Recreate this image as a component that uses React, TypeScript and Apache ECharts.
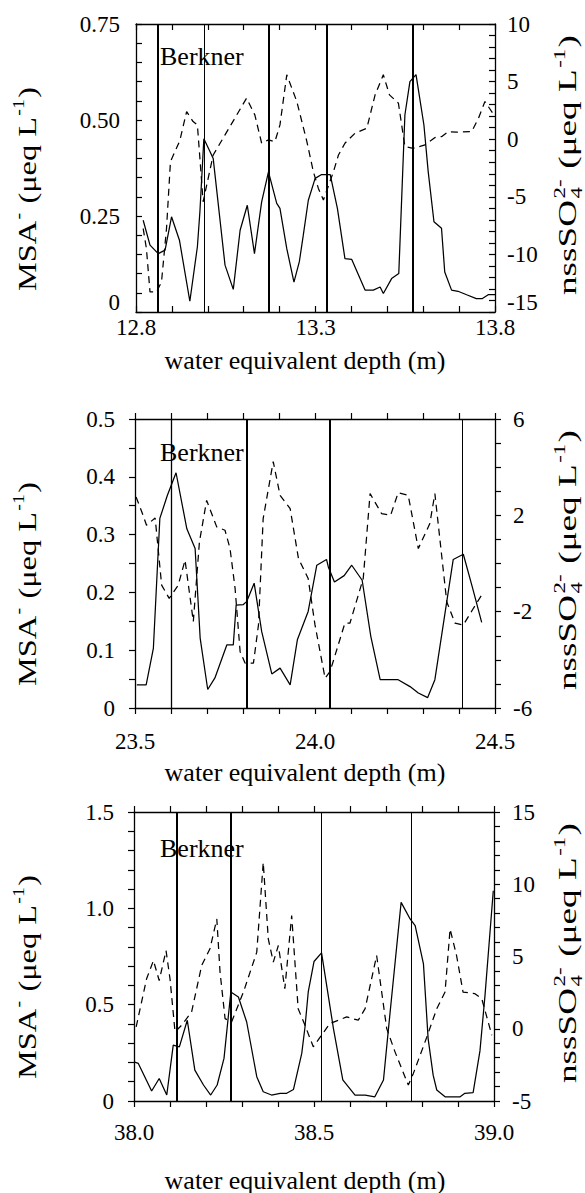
import React, { useEffect, useRef } from 'react';
import * as echarts from 'echarts';

// ---------- Panel 1 (12.8 - 13.8 m) ----------
const p1MsaDepth = [12.820, 12.839, 12.862, 12.881, 12.899, 12.921, 12.950, 12.971, 12.978, 12.989, 13.006, 13.015, 13.048, 13.071, 13.090, 13.110, 13.130, 13.150, 13.169, 13.192, 13.201, 13.220, 13.240, 13.255, 13.266, 13.280, 13.299, 13.317, 13.341, 13.361, 13.382, 13.401, 13.438, 13.461, 13.480, 13.489, 13.512, 13.532, 13.549, 13.563, 13.580, 13.602, 13.614, 13.630, 13.651, 13.660, 13.679, 13.697, 13.721, 13.748, 13.765, 13.781, 13.800];
const p1Msa = [0.239, 0.174, 0.152, 0.161, 0.248, 0.187, 0.028, 0.170, 0.261, 0.451, 0.418, 0.400, 0.122, 0.059, 0.213, 0.278, 0.152, 0.287, 0.365, 0.283, 0.270, 0.165, 0.078, 0.131, 0.200, 0.291, 0.348, 0.358, 0.358, 0.270, 0.139, 0.137, 0.057, 0.057, 0.065, 0.048, 0.087, 0.100, 0.513, 0.600, 0.618, 0.487, 0.365, 0.235, 0.218, 0.104, 0.057, 0.054, 0.045, 0.035, 0.035, 0.045, 0.045];
const p1So4Depth = [12.820, 12.829, 12.839, 12.857, 12.871, 12.885, 12.896, 12.922, 12.941, 12.959, 12.971, 12.978, 12.987, 13.015, 13.048, 13.108, 13.131, 13.150, 13.169, 13.187, 13.201, 13.220, 13.248, 13.276, 13.294, 13.308, 13.322, 13.350, 13.364, 13.382, 13.410, 13.443, 13.466, 13.489, 13.506, 13.531, 13.549, 13.572, 13.605, 13.633, 13.652, 13.670, 13.693, 13.735, 13.754, 13.772, 13.800];
const p1So4 = [-7.75, -9.49, -13.26, -13.26, -12.4, -7.75, -1.95, -0.13, 2.40, 1.53, 1.24, -1.66, -5.43, -1.37, 0.37, 3.56, 2.11, -0.35, -0.06, -0.21, 1.24, 5.59, 3.27, -0.21, -2.82, -4.27, -5.28, -2.82, -1.37, -0.35, 0.52, 0.95, 3.85, 5.59, 3.85, 3.12, -0.64, -0.79, -0.50, 0.14, 0.23, 0.66, 0.61, 0.66, 1.82, 3.27, 1.97];
const p1Events = [12.861, 12.995, 13.168, 13.329, 13.566];

// ---------- Panel 2 (23.5 - 24.5 m) ----------
const p2MsaDepth = [23.505, 23.531, 23.551, 23.569, 23.590, 23.614, 23.644, 23.667, 23.681, 23.702, 23.722, 23.755, 23.773, 23.781, 23.801, 23.810, 23.831, 23.852, 23.880, 23.903, 23.931, 23.951, 23.981, 24.005, 24.032, 24.037, 24.054, 24.081, 24.102, 24.131, 24.155, 24.181, 24.231, 24.264, 24.287, 24.313, 24.333, 24.366, 24.384, 24.412, 24.438, 24.463];
const p2Msa = [0.040, 0.040, 0.103, 0.328, 0.368, 0.407, 0.310, 0.276, 0.121, 0.032, 0.052, 0.109, 0.109, 0.178, 0.179, 0.184, 0.216, 0.132, 0.059, 0.069, 0.040, 0.118, 0.167, 0.247, 0.257, 0.244, 0.218, 0.229, 0.247, 0.221, 0.124, 0.049, 0.049, 0.037, 0.026, 0.018, 0.049, 0.184, 0.257, 0.266, 0.207, 0.148];
const p2So4Depth = [23.503, 23.519, 23.532, 23.556, 23.574, 23.595, 23.620, 23.639, 23.662, 23.679, 23.699, 23.727, 23.750, 23.764, 23.778, 23.792, 23.806, 23.829, 23.843, 23.856, 23.873, 23.884, 23.903, 23.931, 23.954, 23.981, 24.000, 24.028, 24.042, 24.083, 24.097, 24.134, 24.153, 24.185, 24.210, 24.231, 24.259, 24.287, 24.319, 24.333, 24.366, 24.389, 24.412, 24.440, 24.463];
const p2So4 = [2.76, 2.14, 1.59, 1.89, -0.90, -1.45, -0.90, 0.14, -2.41, 0.90, 2.62, 1.52, 1.38, 0.62, -1.03, -3.66, -4.14, -4.14, -2.55, 1.86, 3.31, 4.23, 2.83, 2.28, 0.21, -0.62, -2.55, -4.76, -4.48, -2.48, -2.48, -0.62, 2.90, 2.07, 2.00, 2.94, 2.83, 0.62, 1.66, 2.90, -1.59, -2.48, -2.55, -1.86, -1.31];
const p2Events = [23.597, 23.810, 24.035, 24.412];

// ---------- Panel 3 (38.0 - 39.0 m) ----------
const p3MsaDepth = [38.000, 38.012, 38.049, 38.070, 38.091, 38.109, 38.126, 38.148, 38.169, 38.193, 38.213, 38.231, 38.250, 38.269, 38.290, 38.313, 38.341, 38.359, 38.382, 38.406, 38.424, 38.443, 38.466, 38.475, 38.484, 38.500, 38.521, 38.554, 38.580, 38.614, 38.642, 38.669, 38.693, 38.706, 38.742, 38.767, 38.781, 38.804, 38.817, 38.831, 38.841, 38.864, 38.906, 38.919, 38.942, 38.961, 38.975, 38.998];
const p3Msa = [0.203, 0.195, 0.052, 0.117, 0.031, 0.290, 0.281, 0.419, 0.160, 0.083, 0.031, 0.083, 0.221, 0.566, 0.540, 0.410, 0.126, 0.048, 0.031, 0.040, 0.040, 0.060, 0.247, 0.384, 0.566, 0.724, 0.769, 0.376, 0.110, 0.031, 0.031, 0.022, 0.109, 0.359, 1.031, 0.945, 0.910, 0.712, 0.324, 0.134, 0.057, 0.022, 0.022, 0.040, 0.043, 0.260, 0.548, 1.091];
const p3So4Depth = [38.006, 38.021, 38.035, 38.054, 38.070, 38.089, 38.100, 38.114, 38.132, 38.160, 38.188, 38.211, 38.230, 38.239, 38.253, 38.271, 38.304, 38.341, 38.359, 38.373, 38.387, 38.401, 38.419, 38.438, 38.456, 38.475, 38.498, 38.544, 38.591, 38.623, 38.642, 38.674, 38.702, 38.725, 38.762, 38.776, 38.813, 38.841, 38.864, 38.878, 38.896, 38.914, 38.947, 38.966, 38.994];
const p3So4 = [0.13, 1.85, 3.46, 4.72, 3.34, 5.41, 3.46, -0.22, 0.24, 1.16, 4.38, 5.53, 7.60, 3.92, 0.70, 0.47, 2.54, 5.30, 11.51, 6.22, 4.61, 5.76, 2.77, 7.83, 1.39, 0.24, -1.25, 0.36, 0.82, 0.59, 1.39, 5.07, 0.01, -1.6, -3.90, -3.09, -0.60, 1.39, 2.54, 6.90, 5.07, 2.54, 2.43, 2.08, -0.45];
const p3Events = [38.117, 38.269, 38.524, 38.769];

const siteLabel = 'Berkner';
const xTitle = 'water equivalent depth (m)';

const FONT = 'Liberation Serif';
const BLACK = '#000';
const MAIN_SIZE = 26;
const SMALL_SIZE = 16;

const panels = [
  {
    msaDepth: p1MsaDepth, msa: p1Msa, so4Depth: p1So4Depth, so4: p1So4, events: p1Events,
    eventWidths: [2, 1, 2, 2, 2],
    xOff: 12.8, xMin: 0, xMax: 1, xInt: 0.5, xMinor: 5,
    lMin: 0, lMax: 0.75, lInt: 0.25, lMinor: 5, lFmt: (v: number) => (v === 0 ? '{lift|0}' : v.toFixed(2)),
    rOff: 0, rMin: -15, rMax: 10, rInt: 5, rMinor: 5, liftMin: true,
    grid: { left: 136, width: 359, top: 24, height: 288 },
    inside: true, lMargin: 16, rMargin: 12, xMargin: 4,
    berknerY: 56, titleY: 360,
  },
  {
    msaDepth: p2MsaDepth, msa: p2Msa, so4Depth: p2So4Depth, so4: p2So4, events: p2Events,
    eventWidths: [1.3, 2, 2, 1],
    xOff: 0, xMin: 23.5, xMax: 24.5, xInt: 0.5, xMinor: 5,
    lMin: 0, lMax: 0.5, lInt: 0.1, lMinor: 2, lFmt: (v: number) => (v === 0 ? '0' : v.toFixed(1)),
    rOff: 6, rMin: 0, rMax: 12, rInt: 4, rMinor: 4, liftMin: false,
    grid: { left: 135, width: 360, top: 419, height: 289 },
    inside: false, lMargin: 20, rMargin: 18, xMargin: 22,
    berknerY: 452, titleY: 772,
  },
  {
    msaDepth: p3MsaDepth, msa: p3Msa, so4Depth: p3So4Depth, so4: p3So4, events: p3Events,
    eventWidths: [2, 2, 1, 1],
    xOff: 0, xMin: 38, xMax: 39, xInt: 0.5, xMinor: 5,
    lMin: 0, lMax: 1.5, lInt: 0.5, lMinor: 5, lFmt: (v: number) => (v === 0 ? '0' : v.toFixed(1)),
    rOff: 0, rMin: -5, rMax: 15, rInt: 5, rMinor: 5, liftMin: false,
    grid: { left: 134, width: 360, top: 812, height: 289 },
    inside: false, lMargin: 20, rMargin: 18, xMargin: 20,
    berknerY: 848, titleY: 1180,
  },
];

const tickStyle = { color: BLACK, width: 1.2 };
const axisLineStyle = { color: BLACK, width: 1.3 };
const labelBase = { color: BLACK, fontFamily: FONT, fontSize: 23 };
const liftRich = { lift: { fontFamily: FONT, fontSize: 23, color: BLACK, padding: [0, 0, 20, 0] } };

let measureCtx: CanvasRenderingContext2D | null = null;
function textWidth(s: string, size: number): number {
  if (!measureCtx) measureCtx = document.createElement('canvas').getContext('2d');
  if (!measureCtx) return s.length * size * 0.5;
  measureCtx.font = `${size}px "${FONT}"`;
  return measureCtx.measureText(s).width;
}

type Tok = { main?: string; sup?: string; sub?: string };

// Rotated (bottom-to-top) axis title made of plain text pieces with sub/superscripts.
function rotatedTitle(tokens: Tok[], cx: number, yBottom: number, targetLen: number) {
  const children: any[] = [];
  let pos = 0;
  const txt = (t: string, x: number, y: number, size: number) => ({
    type: 'text', x, y, silent: true,
    style: { text: t, fill: BLACK, fontFamily: FONT, fontSize: size, align: 'left', verticalAlign: 'middle', textAlign: 'left', textVerticalAlign: 'middle' },
  });
  tokens.forEach((tk) => {
    if (tk.main !== undefined) {
      children.push(txt(tk.main, pos, 0, MAIN_SIZE));
      pos += textWidth(tk.main, MAIN_SIZE);
    } else {
      let w = 0;
      if (tk.sup) {
        children.push(txt(tk.sup, pos + 1, -8, SMALL_SIZE));
        w = Math.max(w, textWidth(tk.sup, SMALL_SIZE));
      }
      if (tk.sub) {
        children.push(txt(tk.sub, pos + 1, 9, SMALL_SIZE));
        w = Math.max(w, textWidth(tk.sub, SMALL_SIZE));
      }
      pos += w + 2;
    }
  });
  return {
    type: 'group', x: cx, y: yBottom, rotation: Math.PI / 2, scaleX: targetLen / pos, scaleY: 1,
    children,
  };
}

const leftTitleTokens: Tok[] = [{ main: 'MSA' }, { sup: '-' }, { main: ' (μeq L' }, { sup: '-1' }, { main: ')' }];
const rightTitleTokens: Tok[] = [{ main: 'nssSO' }, { sub: '4', sup: '2-' }, { main: ' (μeq L' }, { sup: '-1' }, { main: ')' }];

function buildOption() {
  const grid: any[] = [];
  const xAxis: any[] = [];
  const yAxis: any[] = [];
  const series: any[] = [];
  const graphic: any[] = [];

  panels.forEach((p, i) => {
    grid.push({ ...p.grid, containLabel: false });
    const xOff = p.xOff;
    const xFmt = (v: number) => (v + xOff).toFixed(1);
    xAxis.push({
      type: 'value', gridIndex: i, position: 'bottom', min: p.xMin, max: p.xMax, interval: p.xInt,
      axisLine: { show: true, onZero: false, lineStyle: axisLineStyle },
      axisTick: { show: true, inside: p.inside, length: 6, lineStyle: tickStyle },
      minorTick: { show: true, splitNumber: p.xMinor, length: 6, lineStyle: tickStyle },
      axisLabel: { ...labelBase, margin: p.xMargin, formatter: xFmt },
      splitLine: { show: false },
    });
    xAxis.push({
      type: 'value', gridIndex: i, position: 'top', min: p.xMin, max: p.xMax, interval: p.xInt,
      axisLine: { show: true, onZero: false, lineStyle: axisLineStyle },
      axisTick: { show: true, inside: p.inside, length: 6, lineStyle: tickStyle },
      minorTick: { show: true, splitNumber: p.xMinor, length: 6, lineStyle: tickStyle },
      axisLabel: { show: false },
      splitLine: { show: false },
    });
    yAxis.push({
      type: 'value', gridIndex: i, position: 'left', min: p.lMin, max: p.lMax, interval: p.lInt,
      axisLine: { show: true, onZero: false, lineStyle: axisLineStyle },
      axisTick: { show: true, inside: p.inside, length: 6, lineStyle: tickStyle },
      minorTick: { show: true, splitNumber: p.lMinor, length: 6, lineStyle: tickStyle },
      axisLabel: { ...labelBase, margin: p.lMargin, formatter: p.lFmt, rich: liftRich },
      splitLine: { show: false },
    });
    const rOff = p.rOff;
    const rMin = p.rMin;
    const liftMin = p.liftMin;
    yAxis.push({
      type: 'value', gridIndex: i, position: 'right', min: p.rMin, max: p.rMax, interval: p.rInt,
      axisLine: { show: true, onZero: false, lineStyle: axisLineStyle },
      axisTick: { show: true, inside: p.inside, length: 6, lineStyle: tickStyle },
      minorTick: { show: true, splitNumber: p.rMinor, length: 6, lineStyle: tickStyle },
      axisLabel: {
        ...labelBase, margin: p.rMargin, rich: liftRich,
        formatter: (v: number) => {
          const s = String(Math.round(v - rOff));
          return liftMin && v === rMin ? `{lift|${s}}` : s;
        },
      },
      splitLine: { show: false },
    });

    series.push({
      type: 'line', xAxisIndex: i * 2, yAxisIndex: i * 2, symbol: 'none', silent: true,
      lineStyle: { color: BLACK, width: 1.25 },
      data: p.msaDepth.map((d, k) => [d - xOff, p.msa[k]]),
      markLine: {
        silent: true, symbol: 'none', label: { show: false },
        lineStyle: { color: BLACK, type: 'solid', width: 1.5 },
        data: p.events.map((e, k) => ({ xAxis: e - xOff, lineStyle: { color: BLACK, type: 'solid', width: p.eventWidths[k] } })),
      },
      z: 3,
    });
    series.push({
      type: 'line', xAxisIndex: i * 2, yAxisIndex: i * 2 + 1, symbol: 'none', silent: true,
      lineStyle: { color: BLACK, width: 1.25, type: [7, 5] },
      data: p.so4Depth.map((d, k) => [d - xOff, p.so4[k] + rOff]),
      z: 2,
    });

    graphic.push({
      type: 'text', x: 160, y: p.berknerY, silent: true,
      style: { text: siteLabel, fill: BLACK, fontFamily: FONT, fontSize: 26, align: 'left', verticalAlign: 'middle', textAlign: 'left', textVerticalAlign: 'middle' },
    });
    graphic.push({
      type: 'text', x: 305, y: p.titleY, silent: true,
      style: { text: xTitle, fill: BLACK, fontFamily: FONT, fontSize: 26, align: 'center', verticalAlign: 'middle', textAlign: 'center', textVerticalAlign: 'middle' },
    });
    const top = p.grid.top;
    graphic.push(rotatedTitle(leftTitleTokens, 27, top + 267, 204));
    graphic.push(rotatedTitle(rightTitleTokens, 567, top + 271, 260));
  });

  return {
    animation: false,
    backgroundColor: '#fff',
    textStyle: { fontFamily: FONT, color: BLACK },
    grid, xAxis, yAxis, series, graphic,
  };
}

export default function App() {
  const ref = useRef<HTMLDivElement>(null);
  useEffect(() => {
    if (!ref.current) return;
    const chart = echarts.init(ref.current, null, { renderer: 'svg' });
    chart.setOption(buildOption() as any);
    return () => chart.dispose();
  }, []);
  return (
    <div
      ref={ref}
      style={{ position: 'absolute', left: 0, top: 0, width: 585, height: 1193, background: '#fff' }}
    />
  );
}
